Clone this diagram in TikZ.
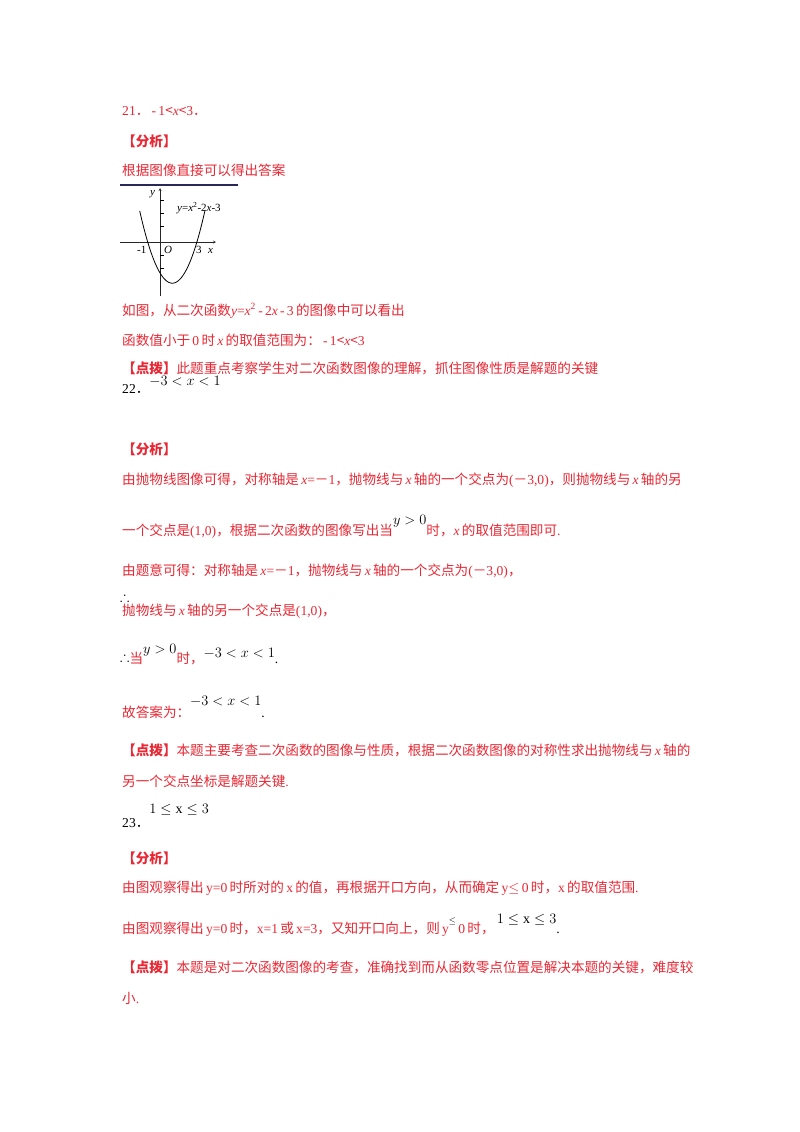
\documentclass[tikz,border=0pt]{standalone}
\usepackage{amssymb}
\usepackage{fontspec}
\setmainfont{Liberation Serif}
\newfontfamily\cjk{Noto Sans CJK SC}
\newcommand\lt[1]{{\rmfamily #1}}
\newcommand\li[1]{{\rmfamily\itshape #1}}
\newcommand\up[2]{\raisebox{#1}{\textcolor{black}{\rmfamily\fontsize{14}{16}\selectfont #2}}}
\definecolor{rd}{RGB}{232,40,52}
\definecolor{nav}{RGB}{40,40,90}
\tikzset{t/.style={anchor=base west,inner sep=0pt,font=\cjk\fontsize{13.6}{15}\selectfont,text=rd},
 tb/.style={t,text=black},
 m/.style={anchor=base west,inner sep=0pt,font=\fontsize{14}{16}\selectfont},
 h/.style={t,font=\cjk\bfseries\fontsize{13.6}{15}\selectfont}}
\begin{document}
\begin{tikzpicture}[x=1pt,y=-1pt]
\useasboundingbox[fill=white] (0,0) rectangle (800,1132);
\node[t] (a1) at (122,115) {\lt{21}．\lt{\,-\,1}<\li{x}<\lt{3}．};
\node[h] (a2) at (122,146) {【分析】};
\node[t] (a3) at (122,175) {根据图像直接可以得出答案};
% graph
\draw[nav,line width=1.2pt] (120,185) -- (238,185);
\draw[->,>=stealth,gray!30!black] (120,242) -- (216,242);
\draw[->,>=stealth,gray!30!black] (160,296) -- (160,188);
\foreach \yy in {200,213,226,255,268} \draw (160,\yy) -- (164,\yy);
\draw[black,line width=0.8pt,domain=-1.65:3.65,samples=60] plot ({160+12.3*\x},{242-10.3*((\x-1)*(\x-1)-4)});
\node[m,font=\itshape\fontsize{11}{12}\selectfont] (gy) at (150,195) {y};
\node[m,font=\fontsize{11}{12}\selectfont] (g1) at (137,253) {-1};
\node[m,font=\itshape\fontsize{11}{12}\selectfont] (go) at (164,253) {O};
\node[m,font=\fontsize{11}{12}\selectfont] (g3) at (196,253) {3};
\node[m,font=\itshape\fontsize{11}{12}\selectfont] (gx) at (208,253) {x};
\node[m,font=\fontsize{11}{12}\selectfont] (gl) at (177,211) {\textit{y}=\textit{x}\textsuperscript{2}-2\textit{x}-3};
\node[t] (a4) at (122,315) {如图，从二次函数\li{y}\lt{=}\li{x}\lt{\textsuperscript{2}\,-\,2}\li{x}\lt{\,-\,3\,}的图像中可以看出};
\node[t] (a5) at (122,345) {函数值小于\lt{\,0\,}时\li{\,x\,}的取值范围为：\lt{\,-\,1}<\li{x}<\lt{3}};
\node[t] (a6) at (122,373) {\textbf{【点拨】}此题重点考察学生对二次函数图像的理解，抓住图像性质是解题的关键};
\node[tb] (b0) at (122,393) {\lt{22}．\up{8pt}{$-3<x<1$}};
\node[h] (b1) at (122,454) {【分析】};
\node[t] (b2) at (122,484) {由抛物线图像可得，对称轴是\li{\,x}\lt{=}－\lt{1}，抛物线与\li{\,x\,}轴的一个交点为\lt{(}－\lt{3,0)}，则抛物线与\li{\,x\,}轴的另};
\node[t] (b3) at (122,535) {一个交点是\lt{(1,0)}，根据二次函数的图像写出当\up{11pt}{$y>0$}时，\li{x\,}的取值范围即可\lt{.}};
\node[t] (b4) at (122,575) {由题意可得：对称轴是\li{\,x}\lt{=}－\lt{1}，抛物线与\li{\,x\,}轴的一个交点为\lt{(}－\lt{3,0)}，};
\node[m,text=black] (b5a) at (120,601) {$\therefore$};
\node[t] (b5) at (122,615) {抛物线与\li{\,x\,}轴的另一个交点是\lt{(1,0)}，};
\node[t] (b6) at (120,663) {\up{2pt}{$\therefore$}当\up{10pt}{$y>0$}时，\up{6pt}{$-3<x<1$}\textcolor{black}{\lt{.}}};
\node[t] (b7) at (122,717) {故答案为：\up{12pt}{$-3<x<1$}\textcolor{black}{\lt{.}}};
\node[t] (b8) at (122,755) {\textbf{【点拨】}本题主要考查二次函数的图像与性质，根据二次函数图像的对称性求出抛物线与\li{\,x\,}轴的};
\node[t] (b9) at (122,786) {另一个交点坐标是解题关键\lt{.}};
\node[tb] (c0) at (122,827) {\lt{23}．\up{14pt}{$1\le \mathrm{x}\le 3$}};
\node[h] (c1) at (122,863) {【分析】};
\node[t] (c2) at (122,892) {由图观察得出\lt{\,y=0\,}时所对的\lt{\,x\,}的值，再根据开口方向，从而确定\lt{\,y$\le$\,0\,}时，\lt{x\,}的取值范围\lt{.}};
\node[t] (c3) at (122,933) {由图观察得出\lt{\,y=0\,}时，\lt{x=1\,}或\lt{\,x=3}，又知开口向上，则\lt{\,y}\raisebox{10pt}{\textcolor{black}{\lt{\small$\le$}}}\lt{\,0\,}时，\,\up{10pt}{$1\le \mathrm{x}\le 3$}\textcolor{black}{\lt{.}}};
\node[t] (c4) at (122,972) {\textbf{【点拨】}本题是对二次函数图像的考查，准确找到而从函数零点位置是解决本题的关键，难度较};
\node[t] (c5) at (122,1003) {小\lt{.}};
\end{tikzpicture}
\end{document}
